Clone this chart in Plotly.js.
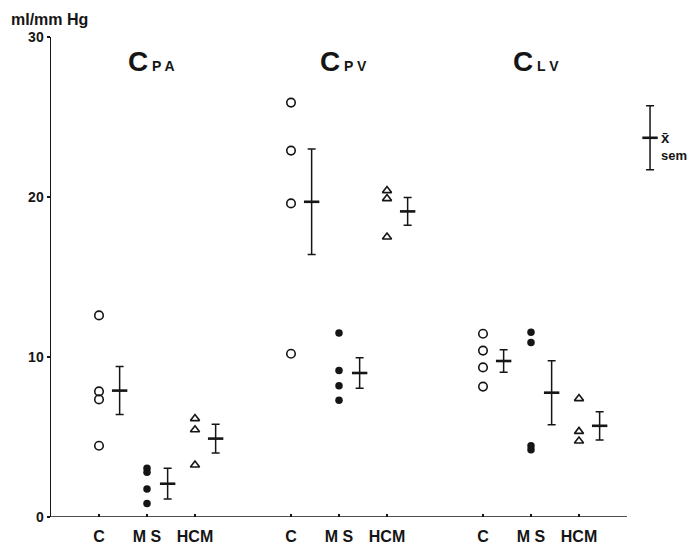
<!DOCTYPE html>
<html>
<head>
<meta charset="utf-8">
<script src="https://cdn.plot.ly/plotly-3.0.1.min.js"></script>
<style>html,body{margin:0;padding:0;background:#fff;}#chart{width:692px;height:555px;}</style>
</head>
<body>
<div id="chart"></div>
<script>
// ---- data (ml/mmHg) ----
const panels = ['PA', 'PV', 'LV'];
const groups = ['C', 'M S', 'HCM'];

const cpaC   = [12.6, 7.85, 7.35, 4.45];
const cpaMS  = [3.05, 2.8, 1.75, 0.85];
const cpaHCM = [6.15, 5.45, 3.25];
const cpvC   = [25.9, 22.9, 19.6, 10.2];
const cpvMS  = [11.5, 9.15, 8.2, 7.3];
const cpvHCM = [20.4, 19.9, 17.5];
const clvC   = [11.45, 10.4, 9.35, 8.15];
const clvMS  = [11.55, 10.9, 4.45, 4.2];
const clvHCM = [7.4, 5.35, 4.75];

// means and sem, in order C, MS, HCM for each panel
const meanPA = [7.9, 2.08, 4.9];
const semPA  = [1.5, 0.96, 0.9];
const meanPV = [19.7, 9.0, 19.1];
const semPV  = [3.3, 0.96, 0.87];
const meanLV = [9.75, 7.77, 5.7];
const semLV  = [0.7, 2.0, 0.88];

const legendMean = 23.7;
const legendSem  = 2.0;

const yTicks = [0, 10, 20, 30];

// ---- build ----
const INK = '#151515';
const FONT = 'Liberation Sans, Arial, sans-serif';
const panelData = [
  [cpaC, cpaMS, cpaHCM],
  [cpvC, cpvMS, cpvHCM],
  [clvC, clvMS, clvHCM]
];
const panelMeans = [meanPA, meanPV, meanLV];
const panelSems  = [semPA, semPV, semLV];
const symbols = ['circle-open', 'circle', 'triangle-up-open'];
const sizes = [8.5, 7.5, 8];
const barOffset = 0.43;

function pos(p, g) { return p * 4 + g + 1; }

const traces = [];
const tickvals = [], ticktext = [];
panels.forEach((name, p) => {
  groups.forEach((gname, g) => {
    const vals = panelData[p][g];
    tickvals.push(pos(p, g));
    ticktext.push(gname);
    traces.push({
      type: 'scatter', mode: 'markers',
      x: vals.map(() => pos(p, g)), y: vals,
      marker: {symbol: symbols[g], size: sizes[g], color: INK,
               line: {color: INK, width: g === 1 ? 0 : 1.6}},
      hoverinfo: 'y', showlegend: false, cliponaxis: false
    });
    traces.push({
      type: 'scatter', mode: 'markers',
      x: [pos(p, g) + barOffset], y: [panelMeans[p][g]],
      marker: {symbol: 'line-ew', size: 11, color: INK, line: {color: INK, width: 2.6}},
      error_y: {type: 'data', array: [panelSems[p][g]], visible: true,
                color: INK, thickness: 1.5, width: 4},
      hoverinfo: 'y', showlegend: false
    });
  });
});

// legend key (mean ± sem)
traces.push({
  type: 'scatter', mode: 'markers',
  x: [12.48], y: [legendMean],
  marker: {symbol: 'line-ew', size: 11, color: INK, line: {color: INK, width: 2.6}},
  error_y: {type: 'data', array: [legendSem], visible: true, color: INK, thickness: 1.5, width: 4},
  hoverinfo: 'skip', showlegend: false
});

const titleAnn = panels.map((name, p) => ({
  xref: 'x', yref: 'y', x: pos(p, 1) + 0.1, y: 28.5,
  xanchor: 'center', yanchor: 'middle', showarrow: false,
  text: '<b>C</b><span style="font-size:14px"><b> ' + name.split('').join(' ') + '</b></span>',
  font: {family: FONT, size: 28, color: INK}
}));

const layout = {
  width: 692, height: 555,
  margin: {l: 51, r: 17, t: 37, b: 38},
  paper_bgcolor: '#fff', plot_bgcolor: '#fff',
  xaxis: {
    range: [0, 13], showgrid: false, zeroline: false, showline: false,
    tickvals: tickvals, ticktext: ticktext,
    ticks: 'inside', ticklen: 3, tickwidth: 2, tickcolor: INK,
    ticklabelstandoff: 8,
    tickfont: {family: FONT, size: 16, color: INK, weight: 'bold'}
  },
  yaxis: {
    range: [0, 30], showgrid: false, zeroline: false,
    showline: true, linewidth: 1.5, linecolor: INK,
    tickvals: yTicks, ticks: 'outside', ticklen: 3, tickwidth: 2, tickcolor: INK,
    tickfont: {family: FONT, size: 14, color: INK, weight: 'bold'}
  },
  shapes: [{type: 'line', xref: 'x', yref: 'y', x0: 0, x1: 12, y0: 0, y1: 0,
            line: {color: INK, width: 1.5}}],
  annotations: titleAnn.concat([
    {xref: 'paper', yref: 'paper', x: -0.067, y: 1.0, yshift: 18, xanchor: 'left', yanchor: 'middle',
     showarrow: false, text: '<b>ml/mm Hg</b>', font: {family: FONT, size: 16, color: INK}},
    {xref: 'x', yref: 'y', x: 12.48, y: legendMean, xshift: 9, xanchor: 'left', yanchor: 'middle',
     showarrow: false, text: '<b>x\u0304</b>', font: {family: FONT, size: 15, color: INK}},
    {xref: 'x', yref: 'y', x: 12.48, y: legendMean - 1.1, xshift: 9, xanchor: 'left', yanchor: 'middle',
     showarrow: false, text: '<b>sem</b>', font: {family: FONT, size: 13, color: INK}}
  ])
};

Plotly.newPlot('chart', traces, layout, {displayModeBar: false, staticPlot: true});
</script>
</body>
</html>
